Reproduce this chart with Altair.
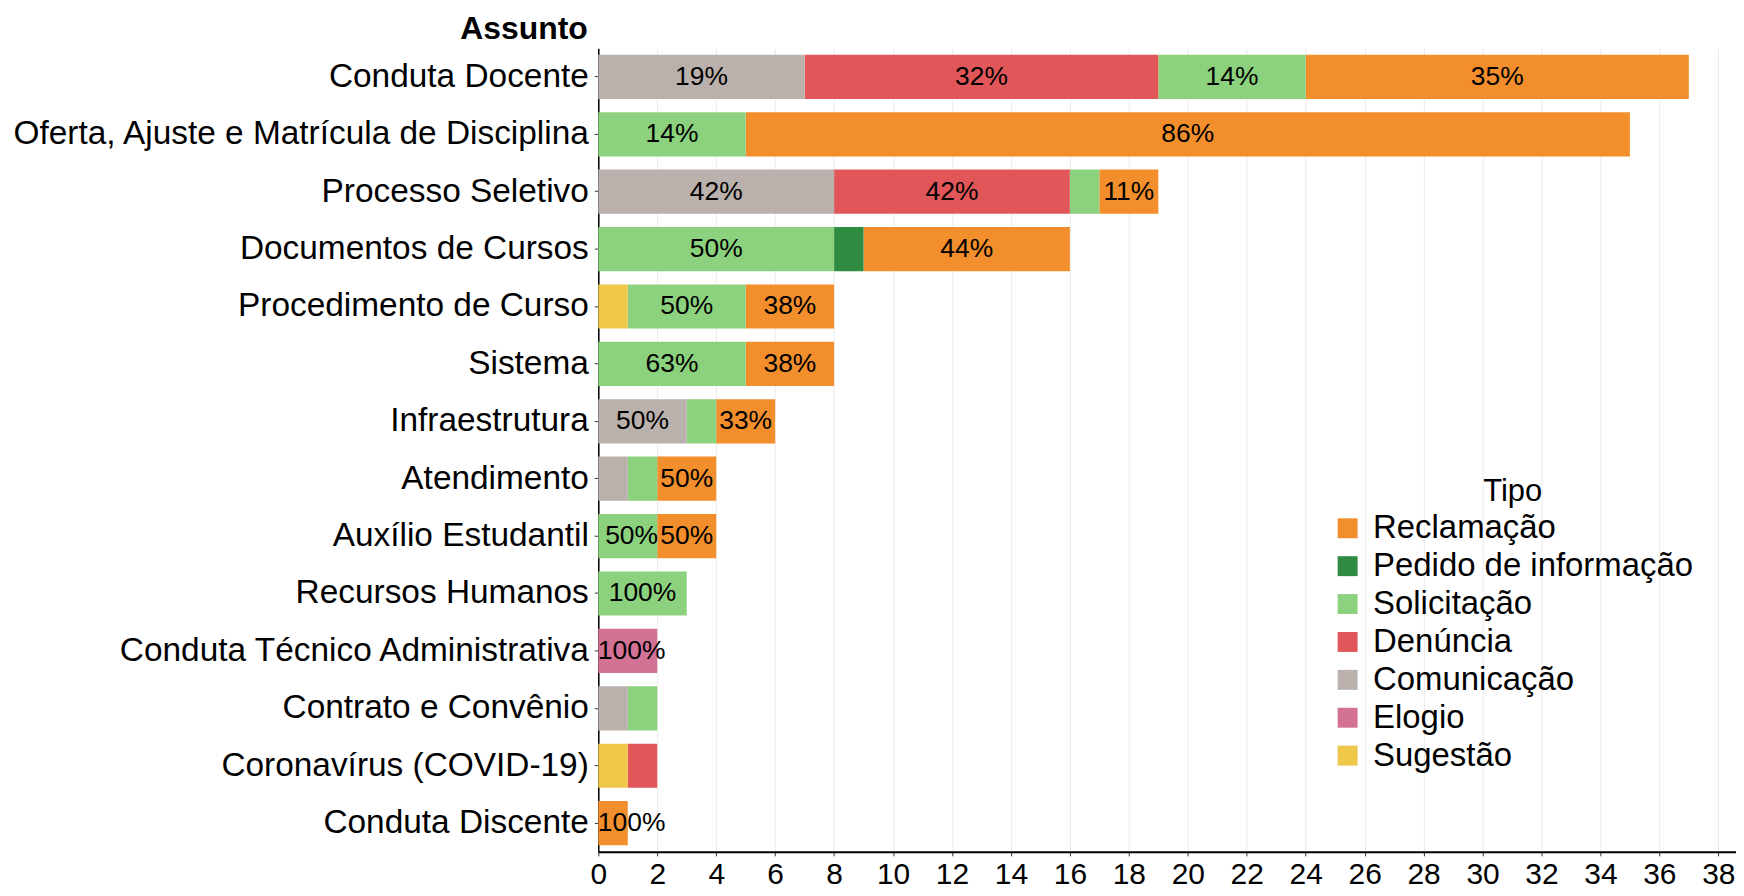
import altair as alt
import pandas as pd

assuntos = [
    "Conduta Docente",
    "Oferta, Ajuste e Matrícula de Disciplina",
    "Processo Seletivo",
    "Documentos de Cursos",
    "Procedimento de Curso",
    "Sistema",
    "Infraestrutura",
    "Atendimento",
    "Auxílio Estudantil",
    "Recursos Humanos",
    "Conduta Técnico Administrativa",
    "Contrato e Convênio",
    "Coronavírus (COVID-19)",
    "Conduta Discente",
]

tipos = ["Reclamação", "Pedido de informação", "Solicitação", "Denúncia",
         "Comunicação", "Elogio", "Sugestão"]
cores = ["#F28E2B", "#2E8B40", "#8CD17D", "#E15759", "#BAB0AC", "#D37295", "#EFC84A"]

reclamacao  = [13, 30, 2, 7, 3, 3, 2, 2, 2, 0, 0, 0, 0, 1]
pedido      = [0, 0, 0, 1, 0, 0, 0, 0, 0, 0, 0, 0, 0, 0]
solicitacao = [5, 5, 1, 8, 4, 5, 1, 1, 2, 3, 0, 1, 0, 0]
denuncia    = [12, 0, 8, 0, 0, 0, 0, 0, 0, 0, 0, 0, 1, 0]
comunicacao = [7, 0, 8, 0, 0, 0, 3, 1, 0, 0, 0, 1, 0, 0]
elogio      = [0, 0, 0, 0, 0, 0, 0, 0, 0, 0, 2, 0, 0, 0]
sugestao    = [0, 0, 0, 0, 1, 0, 0, 0, 0, 0, 0, 0, 1, 0]

series = [reclamacao, pedido, solicitacao, denuncia, comunicacao, elogio, sugestao]
# stack order left->right: Sugestão, Elogio, Comunicação, Denúncia, Solicitação, Pedido, Reclamação
rows = []
for ti, (tipo, vals) in enumerate(zip(tipos, series)):
    for a, v in zip(assuntos, vals):
        if v > 0:
            rows.append({"Assunto": a, "Tipo": tipo, "n": v, "rank": len(tipos) - 1 - ti})
df = pd.DataFrame(rows)

FONT = "Liberation Sans"

base = (
    alt.Chart(df)
    .transform_joinaggregate(total="sum(n)", groupby=["Assunto"])
    .transform_calculate(pct="datum.n / datum.total")
    .transform_stack(stack="n", groupby=["Assunto"], as_=["x0", "x1"],
                     sort=[alt.SortField("rank", order="ascending")])
)

y_enc = alt.Y(
    "Assunto:N",
    sort=assuntos,
    scale=alt.Scale(paddingInner=0.23, paddingOuter=0.115),
    axis=alt.Axis(
        title="Assunto", titleAngle=0, titleAlign="right", titleBaseline="alphabetic",
        titleX=-11, titleY=-10, titleFontSize=32, titleFontWeight="bold",
        titleFont=FONT, titleColor="black",
        labelFontSize=33.5, labelFont=FONT, labelColor="black", labelPadding=6,
        labelLimit=800, domainColor="black", domainWidth=1.5,
        tickColor="#333333", tickSize=4, grid=False,
    ),
)

x_scale = alt.Scale(domain=[0, 38.6], nice=False, zero=True)

bars = base.mark_bar().encode(
    x=alt.X(
        "x0:Q", scale=x_scale, title=None,
        axis=alt.Axis(
            values=list(range(0, 39, 2)), labelFontSize=30, labelFont=FONT,
            labelColor="black", labelPadding=4, domainColor="black", domainWidth=2,
            tickColor="#333333", tickSize=4, grid=True, gridColor="#EBEBEB",
            gridWidth=1, labelFlush=False,
        ),
    ),
    x2="x1:Q",
    y=y_enc,
    color=alt.Color(
        "Tipo:N",
        scale=alt.Scale(domain=tipos, range=cores),
        legend=alt.Legend(
            title="Tipo", orient="none", legendX=735, legendY=430,
            titleFontSize=31, titleFontWeight="normal", titleFont=FONT,
            titleColor="black", titleAnchor="middle", titlePadding=4,
            labelFontSize=33, labelFont=FONT, labelColor="black", labelLimit=600,
            symbolType="square", symbolSize=400, symbolStrokeWidth=0,
            rowPadding=4, labelOffset=9,
        ),
    ),
)

text = (
    base.transform_filter("datum.n >= 2 || datum.pct == 1")
    .transform_calculate(mid="max((datum.x0 + datum.x1) / 2, 1.13)")
    .mark_text(fontSize=26.5, font=FONT, color="black", baseline="middle", align="center")
    .encode(
        x=alt.X("mid:Q", scale=x_scale, title=None),
        y=y_enc,
        text=alt.Text("pct:Q", format=".0%"),
    )
)

chart = (
    alt.layer(bars, text)
    .properties(
        width=1141, height=806,
        autosize=alt.AutoSizeParams(type="none"),
        padding={"left": 592, "top": 39, "right": 0, "bottom": 43},
        background="white",
    )
    .configure_view(stroke=None)
    .configure_legend(titleFontSize=31, labelFontSize=33)
)

chart.save("out.html", embed_options={"renderer": "svg", "actions": False})
